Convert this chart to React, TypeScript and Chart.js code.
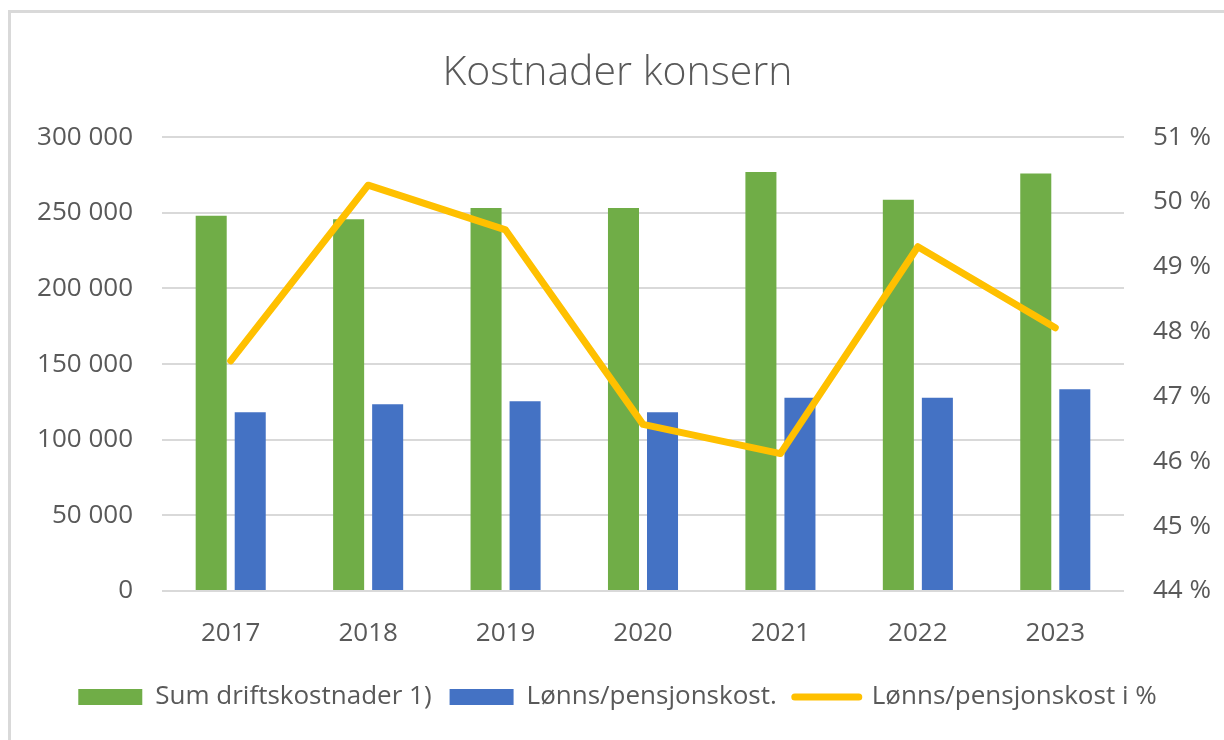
import React, { useEffect, useRef } from 'react';
import { Chart, registerables } from 'chart.js';

Chart.register(...registerables);

const years = ['2017', '2018', '2019', '2020', '2021', '2022', '2023'];
const driftskostnader = [248000, 245700, 253200, 253200, 277000, 258700, 276000];
const lonnskost = [118100, 123400, 125400, 118100, 127800, 127800, 133300];
const lonnsandel = [47.55, 50.26, 49.57, 46.57, 46.12, 49.31, 48.06];

const leftTicks = { min: 0, max: 300000, step: 50000 };
const rightTicks = { min: 44, max: 51, step: 1 };

const FONT = "'Open Sans', 'Noto Sans', sans-serif";
const TEXT = '#595959';

function fmtThousands(v: number): string {
  return String(Math.round(v)).replace(/\B(?=(\d{3})+(?!\d))/g, ' ');
}

export default function App() {
  const ref = useRef<HTMLCanvasElement>(null);

  useEffect(() => {
    if (!ref.current) return;
    const chart = new Chart(ref.current, {
      type: 'bar',
      data: {
        labels: years,
        datasets: [
          {
            type: 'bar',
            label: 'Sum driftskostnader 1)',
            data: driftskostnader,
            backgroundColor: '#70AD47',
            borderWidth: 0,
            yAxisID: 'y',
            order: 1,
            categoryPercentage: 0.568,
            barPercentage: 0.795,
          },
          {
            type: 'bar',
            label: 'Lønns/pensjonskost.',
            data: lonnskost,
            backgroundColor: '#4472C4',
            borderWidth: 0,
            yAxisID: 'y',
            order: 1,
            categoryPercentage: 0.568,
            barPercentage: 0.795,
          },
          {
            type: 'line',
            label: 'Lønns/pensjonskost i %',
            data: lonnsandel,
            borderColor: '#FFC000',
            backgroundColor: '#FFC000',
            borderWidth: 7,
            borderCapStyle: 'round',
            borderJoinStyle: 'round',
            pointRadius: 0,
            pointHoverRadius: 0,
            tension: 0,
            fill: false,
            yAxisID: 'y1',
            order: 0,
          },
        ],
      } as any,
      options: {
        responsive: false,
        animation: false,
        devicePixelRatio: 1,
        layout: { padding: { left: 0, right: 0, top: 0, bottom: 20 } },
        plugins: {
          tooltip: { enabled: false },
          title: {
            display: true,
            text: 'Kostnader konsern',
            color: TEXT,
            font: { family: FONT, size: 41, weight: '300' as any, lineHeight: 1.2 },
            padding: { top: 36, bottom: 39 },
          },
          legend: {
            display: true,
            position: 'bottom',
            labels: {
              color: TEXT,
              font: { family: FONT, size: 26 },
              usePointStyle: true,
              pointStyleWidth: 64,
              boxHeight: 16,
              padding: 18,
              sort: (a: any, b: any) => a.datasetIndex - b.datasetIndex,
              generateLabels: (c: any) =>
                Chart.defaults.plugins.legend.labels.generateLabels(c).map((l: any) => {
                  const isLine = l.datasetIndex === 2;
                  return {
                    ...l,
                    pointStyle: isLine ? 'line' : 'rect',
                    lineWidth: isLine ? 7 : 0,
                    lineCap: 'round',
                    strokeStyle: isLine ? '#FFC000' : l.fillStyle,
                  };
                }),
            },
          },
        },
        scales: {
          x: {
            offset: true,
            grid: { display: false },
            border: { display: false },
            ticks: { color: TEXT, font: { family: FONT, size: 26, lineHeight: 1.2 }, padding: 19, maxRotation: 0 },
            afterFit: (s: any) => {
              s.height = 75;
            },
          },
          y: {
            position: 'left',
            min: leftTicks.min,
            max: leftTicks.max,
            grid: { color: '#d9d9d9', lineWidth: 2, drawTicks: false },
            border: { display: false },
            ticks: {
              stepSize: leftTicks.step,
              color: TEXT,
              font: { family: FONT, size: 26 },
              padding: 29,
              callback: (v: any) => fmtThousands(Number(v)),
            },
            afterFit: (s: any) => {
              s.width = 151;
            },
          },
          y1: {
            position: 'right',
            min: rightTicks.min,
            max: rightTicks.max,
            grid: { display: false, drawTicks: false },
            border: { display: false },
            ticks: {
              stepSize: rightTicks.step,
              color: TEXT,
              font: { family: FONT, size: 26 },
              padding: 29,
              callback: (v: any) => `${v} %`,
            },
            afterFit: (s: any) => {
              s.width = 100;
            },
          },
        },
      } as any,
    });
    return () => chart.destroy();
  }, []);

  return (
    <div
      style={{
        position: 'absolute',
        left: 8,
        top: 10,
        width: 1216,
        height: 730,
        boxSizing: 'border-box',
        borderTop: '3px solid #d9d9d9',
        borderLeft: '3px solid #d9d9d9',
        background: '#ffffff',
      }}
    >
      <canvas ref={ref} width={1213} height={727} style={{ display: 'block', width: 1213, height: 727 }} />
    </div>
  );
}
